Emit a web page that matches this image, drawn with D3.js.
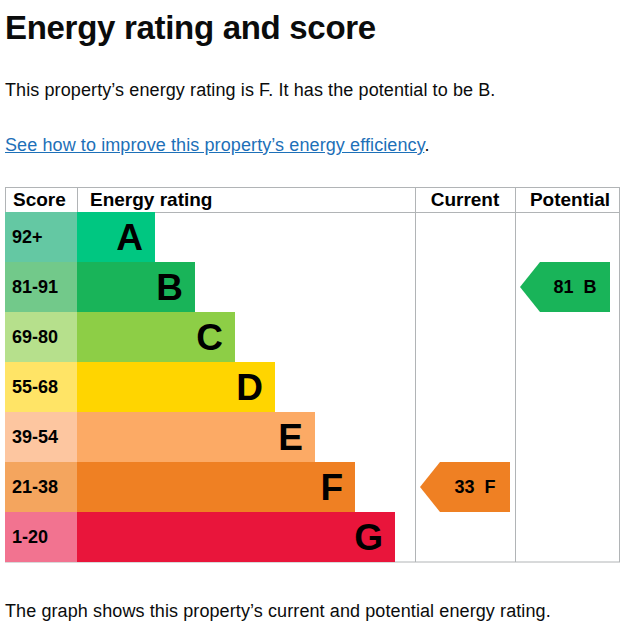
<!DOCTYPE html>
<html><head><meta charset="utf-8">
<script src="https://cdn.jsdelivr.net/npm/d3@7"></script>
<style>
body{margin:0;background:#fff;font-family:"Liberation Sans",Arial,sans-serif;color:#0b0c0c}
h1{position:absolute;left:5px;top:9px;margin:0;font-size:33px;font-weight:bold;letter-spacing:-0.3px}
p{position:absolute;left:5px;margin:0;font-size:18px;letter-spacing:0.1px}
a{color:#1d70b8}
</style></head><body>
<h1>Energy rating and score</h1>
<p style="top:80px">This property’s energy rating is F. It has the potential to be B.</p>
<p style="top:135px"><a href="#">See how to improve this property’s energy efficiency</a>.</p>
<div id="chart" style="position:absolute;left:0;top:180px"></div>
<p style="top:601px">The graph shows this property’s current and potential energy rating.</p>
<script>
const bands = ["A", "B", "C", "D", "E", "F", "G"];
const scoreLabels = ["92+", "81-91", "69-80", "55-68", "39-54", "21-38", "1-20"];
const barColors = ["#00c781", "#19b459", "#8dce46", "#ffd500", "#fcaa65", "#ef8023", "#e9153b"];
const scoreColors = ["#64c8a3", "#72c98a", "#b6e08c", "#ffe466", "#fdc6a0", "#f4a55e", "#f27390"];
const barLengths = [1, 2, 3, 4, 5, 6, 7];
const currentScore = 33, currentBand = "F";
const potentialScore = 81, potentialBand = "B";

const svg = d3.select("#chart").append("svg").attr("width", 632).attr("height", 400);
const y = d3.scaleBand().domain(bands).range([32, 382]);
const x = d3.scaleLinear().domain([0, 7]).range([115, 395]);
const grid = "#b1b4b6";

// table frame
svg.append("rect").attr("x", 5.5).attr("y", 7.5).attr("width", 614).attr("height", 374.5)
  .attr("fill", "none").attr("stroke", grid);
svg.append("line").attr("x1", 5).attr("x2", 620).attr("y1", 32.5).attr("y2", 32.5).attr("stroke", grid);
[77.5, 415.5, 515.5].forEach(v => svg.append("line").attr("x1", v).attr("x2", v)
  .attr("y1", 7).attr("y2", 382).attr("stroke", grid));

const hdr = [["Score", 13, "start"], ["Energy rating", 90, "start"], ["Current", 465, "middle"], ["Potential", 570, "middle"]];
hdr.forEach(h => svg.append("text").attr("x", h[1]).attr("y", 26).attr("text-anchor", h[2])
  .attr("font-size", 19).attr("font-weight", "bold").text(h[0]));

const rows = svg.selectAll("g.row").data(bands).enter().append("g");
rows.append("rect").attr("x", 5).attr("y", d => y(d)).attr("width", 72).attr("height", y.bandwidth())
  .attr("fill", (d, i) => scoreColors[i]);
rows.append("rect").attr("x", 77).attr("y", d => y(d)).attr("width", (d, i) => x(barLengths[i]) - 77)
  .attr("height", y.bandwidth()).attr("fill", (d, i) => barColors[i]);
rows.append("text").attr("x", 12).attr("y", d => y(d) + 31).attr("font-size", 18).attr("font-weight", "bold")
  .text((d, i) => scoreLabels[i]);
rows.append("text").attr("x", (d, i) => x(barLengths[i]) - 12).attr("y", d => y(d) + 38)
  .attr("text-anchor", "end").attr("font-size", 37).attr("font-weight", "bold").text(d => d);

function arrow(x0, x1, band, score) {
  const i = bands.indexOf(band), t = y(band), h = y.bandwidth();
  svg.append("path").attr("d", `M${x0},${t + h / 2}L${x0 + 20},${t}H${x1}V${t + h}H${x0 + 20}Z`)
    .attr("fill", barColors[i]);
  svg.append("text").attr("x", (x0 + 20 + x1) / 2).attr("y", t + 31).attr("text-anchor", "middle")
    .attr("font-size", 18).attr("font-weight", "bold").attr("xml:space", "preserve")
    .text(score + "  " + band);
}
arrow(420, 510, currentBand, currentScore);
arrow(520, 610, potentialBand, potentialScore);
</script>
</body></html>
